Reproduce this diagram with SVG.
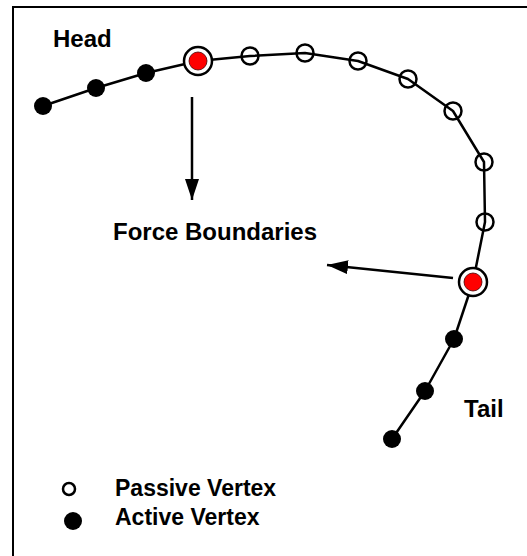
<svg xmlns="http://www.w3.org/2000/svg" width="527" height="556" viewBox="0 0 527 556">
  <style>
    .lbl { font-family: "Liberation Sans", Arial, sans-serif; font-weight: bold; font-size: 24px; fill: #000; }
    .leg { font-family: "Liberation Sans", Arial, sans-serif; font-weight: bold; font-size: 23px; fill: #000; }
    .passive { fill: none; stroke: #000; stroke-width: 2.5; }
    .active { fill: #000; }
    .ring { fill: #fff; stroke: #000; stroke-width: 2.5; }
    .core { fill: #ff0000; stroke: #400; stroke-width: 0.8; }
    .curve { fill: none; stroke: #000; stroke-width: 2.5; stroke-linejoin: round; }
    .arrow { fill: none; stroke: #000; stroke-width: 2.5; }
  </style>
  <defs>
    <marker id="ah" markerUnits="userSpaceOnUse" markerWidth="22" markerHeight="16" refX="21" refY="7" orient="auto">
      <path d="M0,0 L21,7 L0,14 Z" fill="#000"/>
    </marker>
  </defs>
  <rect width="527" height="556" fill="#fff"/>
  <g id="frame">
    <line x1="12" y1="7" x2="527" y2="7" stroke="#000" stroke-width="2"/>
    <line x1="13" y1="6" x2="13" y2="556" stroke="#000" stroke-width="2"/>
  </g>
  <g id="connectors">
    <polyline class="curve" points="43,106 96,88 146,73 198,61 250,56 305,53 358,61 408,79 453,111 484,162 485,222 473,282 454,339 425,391 392,439"/>
    <line class="arrow" x1="192" y1="97" x2="192" y2="200" marker-end="url(#ah)"/>
    <line class="arrow" x1="453" y1="278" x2="327" y2="265" marker-end="url(#ah)"/>
  </g>
  <g id="v-a1"><circle class="active" cx="43" cy="106" r="9"/></g>
  <g id="v-a2"><circle class="active" cx="96" cy="88" r="9"/></g>
  <g id="v-a3"><circle class="active" cx="146" cy="73" r="9"/></g>
  <g id="v-head"><circle class="ring" cx="198" cy="61" r="14"/><circle class="core" cx="198" cy="61" r="9"/></g>
  <g id="v-p1"><circle class="passive" cx="250" cy="56" r="8.5"/></g>
  <g id="v-p2"><circle class="passive" cx="305" cy="53" r="8.5"/></g>
  <g id="v-p3"><circle class="passive" cx="358" cy="61" r="8.5"/></g>
  <g id="v-p4"><circle class="passive" cx="408" cy="79" r="8.5"/></g>
  <g id="v-p5"><circle class="passive" cx="453" cy="111" r="8.5"/></g>
  <g id="v-p6"><circle class="passive" cx="484" cy="162" r="8.5"/></g>
  <g id="v-p7"><circle class="passive" cx="485" cy="222" r="8.5"/></g>
  <g id="v-tail"><circle class="ring" cx="473" cy="282" r="14"/><circle class="core" cx="473" cy="282" r="9"/></g>
  <g id="v-a4"><circle class="active" cx="454" cy="339" r="9"/></g>
  <g id="v-a5"><circle class="active" cx="425" cy="391" r="9"/></g>
  <g id="v-a6"><circle class="active" cx="392" cy="439" r="9"/></g>
  <g id="labels">
    <text class="lbl" x="53" y="47">Head</text>
    <text class="lbl" x="113" y="240">Force Boundaries</text>
    <text class="lbl" x="464" y="417">Tail</text>
  </g>
  <g id="legend">
    <circle class="passive" cx="69" cy="489" r="6"/>
    <circle class="active" cx="73" cy="521" r="9"/>
    <text class="leg" x="115" y="496">Passive Vertex</text>
    <text class="leg" x="115" y="525">Active Vertex</text>
  </g>
</svg>
